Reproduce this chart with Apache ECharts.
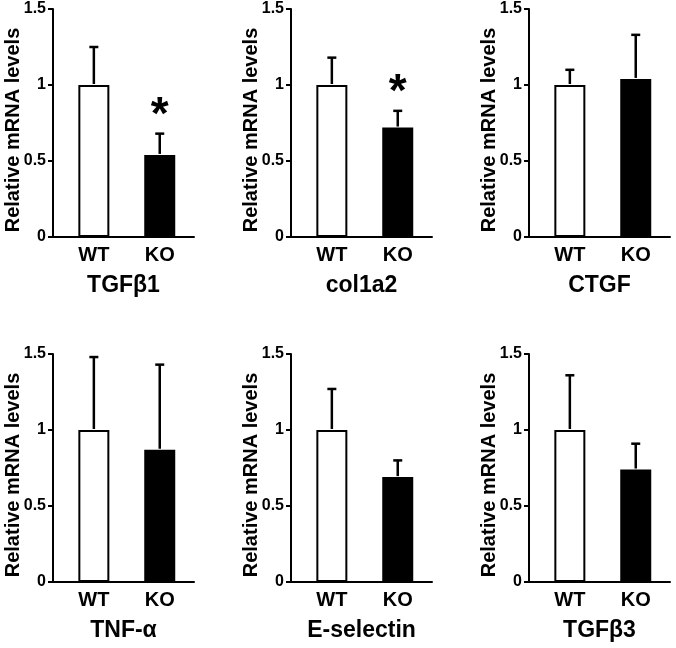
<!DOCTYPE html>
<html>
<head>
<meta charset="UTF-8">
<title>Relative mRNA levels WT vs KO</title>
<script src="https://cdn.jsdelivr.net/npm/echarts@6/dist/echarts.min.js"></script>
<style>
  html, body { margin: 0; padding: 0; background: #fff; }
  #main { width: 676px; height: 648px; }
</style>
</head>
<body>
<div id="main"></div>
<script type="text/javascript">
// data
var genes = ['TGFβ1', 'col1a2', 'CTGF', 'TNF-α', 'E-selectin', 'TGFβ3'];
var groups = ['WT', 'KO'];
var wtMean = [1.0, 1.0, 1.0, 1.0, 1.0, 1.0];
var wtErr  = [0.25, 0.18, 0.10, 0.48, 0.27, 0.36];
var koMean = [0.54, 0.72, 1.04, 0.87, 0.69, 0.74];
var koErr  = [0.14, 0.11, 0.29, 0.56, 0.11, 0.17];
var starAt = [0.86, 1.01, null, null, null, null]; // asterisk over KO
var yTicks = [0, 0.5, 1, 1.5];

var FONT = '"Liberation Sans", Arial, sans-serif';
var colX = [53, 291, 529];
var rowY = [9, 354];

var grid = [], xAxis = [], yAxis = [], series = [];

genes.forEach(function (g, i) {
    var left = colX[i % 3], top = rowY[Math.floor(i / 3)];
    grid.push({ left: left, top: top, width: 141, height: 228 });

    xAxis.push({
        type: 'value', gridIndex: i, min: 0.38, max: 2.52,
        axisLine: { lineStyle: { color: '#000', width: 2 } },
        axisTick: { show: false },
        splitLine: { show: false },
        axisLabel: {
            customValues: [1, 2],
            formatter: function (v) { return groups[Math.round(v) - 1]; },
            color: '#000', fontFamily: FONT, fontWeight: 'bold', fontSize: 20, margin: 8
        },
        name: g, nameLocation: 'middle', nameGap: 37, nameMoveOverlap: false,
        nameTextStyle: { color: '#000', fontFamily: FONT, fontWeight: 'bold', fontSize: 23 }
    });

    yAxis.push({
        type: 'value', gridIndex: i, min: yTicks[0], max: yTicks[yTicks.length - 1], interval: 0.5,
        axisLine: { show: true, lineStyle: { color: '#000', width: 2 } },
        axisTick: { show: true, length: 5, lineStyle: { color: '#000', width: 2 } },
        splitLine: { show: false },
        axisLabel: { color: '#000', fontFamily: FONT, fontWeight: 'bold', fontSize: 16, margin: 7 },
        name: 'Relative mRNA levels', nameLocation: 'middle', nameGap: 30, nameMoveOverlap: false,
        nameTextStyle: { color: '#000', fontFamily: FONT, fontWeight: 'bold', fontSize: 20, padding: [0, 14, 0, 0] }
    });

    series.push({
        type: 'bar', xAxisIndex: i, yAxisIndex: i, barWidth: 31,
        data: [
            { value: [1, wtMean[i]], itemStyle: { color: '#fff', borderColor: '#000', borderWidth: 2 } },
            { value: [2, koMean[i]], itemStyle: { color: '#000', borderColor: '#000', borderWidth: 2 } }
        ]
    });

    // upward error bars
    series.push({
        type: 'custom', xAxisIndex: i, yAxisIndex: i, clip: false, z: 3,
        data: [[1, wtMean[i], wtErr[i]], [2, koMean[i], koErr[i]]],
        renderItem: function (params, api) {
            var base = api.coord([api.value(0), api.value(1)]);
            var tip = api.coord([api.value(0), api.value(1) + api.value(2)]);
            var st = { stroke: '#000', lineWidth: 2.5 };
            return {
                type: 'group',
                children: [
                    { type: 'line', shape: { x1: base[0], y1: base[1] - 1, x2: tip[0], y2: tip[1] }, style: st },
                    { type: 'line', shape: { x1: tip[0] - 4.5, y1: tip[1], x2: tip[0] + 4.5, y2: tip[1] }, style: st }
                ]
            };
        }
    });

    if (starAt[i] != null) {
        series.push({
            type: 'custom', xAxisIndex: i, yAxisIndex: i, clip: false, z: 4,
            data: [[2, starAt[i]]],
            renderItem: function (params, api) {
                var p = api.coord([api.value(0), api.value(1)]);
                var fs = 46;
                return {
                    type: 'text',
                    style: {
                        text: '*', x: p[0], y: p[1] + 0.22 * fs,
                        align: 'center', verticalAlign: 'middle',
                        font: 'bold ' + fs + 'px ' + FONT, fill: '#000'
                    }
                };
            }
        });
    }
});

var myChart = echarts.init(document.getElementById('main'));
myChart.setOption({
    animation: false,
    backgroundColor: '#fff',
    grid: grid,
    xAxis: xAxis,
    yAxis: yAxis,
    series: series
});
</script>
</body>
</html>
